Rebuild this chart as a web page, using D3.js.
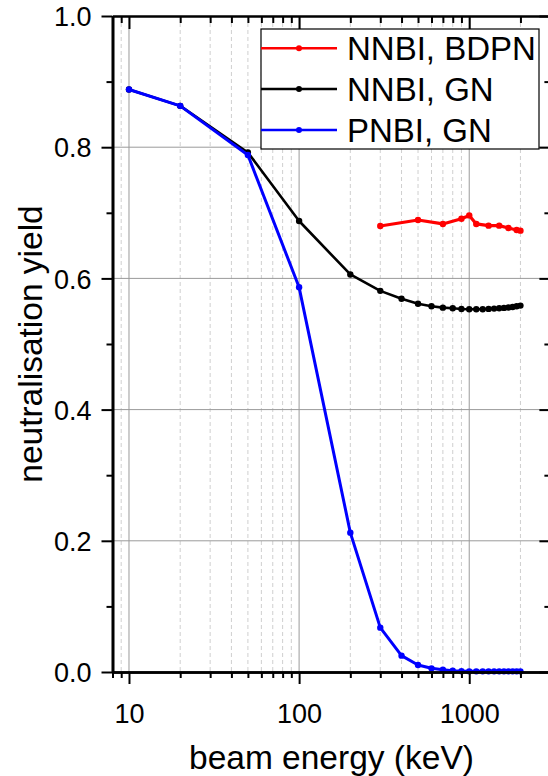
<!DOCTYPE html>
<html><head><meta charset="utf-8">
<script src="https://cdn.jsdelivr.net/npm/d3@7"></script>
<style>
body{margin:0;background:#fff;}
svg{display:block;font-family:"Liberation Sans",Arial,sans-serif;}
</style></head>
<body><svg id="c" width="548" height="776"></svg>
<script>
// ---- data ----
const energyGN = [10,20,50,100,200,300,400,500,600,700,800,900,1000,1100,1200,1300,1400,1500,1600,1700,1800,1900,2000];
const nnbiGN = [0.888,0.863,0.792,0.6875,0.606,0.581,0.569,0.5614,0.5575,0.5554,0.5544,0.5534,0.5529,0.5529,0.553,0.5535,0.554,0.5545,0.555,0.5557,0.5565,0.5575,0.5585];
const pnbiGN = [0.888,0.863,0.788,0.5864,0.2124,0.0676,0.0249,0.0107,0.0056,0.0035,0.002,0.0012,0.001,0.001,0.001,0.001,0.001,0.001,0.001,0.001,0.001,0.001,0.001];
const energyBDPN = [300,500,700,900,1000,1100,1300,1500,1700,1900,2000];
const nnbiBDPN = [0.6799,0.689,0.683,0.691,0.696,0.683,0.6804,0.6804,0.6768,0.6738,0.6728];
const seriesNames = ["NNBI, BDPN","NNBI, GN","PNBI, GN"];
const seriesColors = ["#ff0000","#000000","#0000ff"];
const xMajorTicks = [10,100,1000];
const xMinorTicks = [8,9,20,30,40,50,60,70,80,90,200,300,400,500,600,700,800,900,2000,3000];
const yMajorTicks = [0,0.2,0.4,0.6,0.8,1.0];
const yMinorTicks = [0.1,0.3,0.5,0.7,0.9];
const xTitle = "beam energy (keV)";
const yTitle = "neutralisation yield";

// ---- layout ----
const L = 112.5, R = 550.4, T = 16, B = 672;
const svg = d3.select("#c");
const x = d3.scaleLog().domain([8,3000]).range([L,R]);
const y = d3.scaleLinear().domain([0,1]).range([B,T]);

// grid
const g = svg.append("g");
g.selectAll(".gmin").data(xMinorTicks.filter(d=>d>8 && d<3000)).enter().append("line")
  .attr("x1",d=>x(d)).attr("x2",d=>x(d)).attr("y1",T).attr("y2",B)
  .attr("stroke","#cfcfcf").attr("stroke-width",1).attr("stroke-dasharray","4,3");
g.selectAll(".gx").data(xMajorTicks).enter().append("line")
  .attr("x1",d=>x(d)).attr("x2",d=>x(d)).attr("y1",T).attr("y2",B)
  .attr("stroke","#9a9a9a").attr("stroke-width",1);
g.selectAll(".gy").data(yMajorTicks.filter(d=>d>0&&d<1)).enter().append("line")
  .attr("x1",L).attr("x2",R).attr("y1",d=>y(d)).attr("y2",d=>y(d))
  .attr("stroke","#9a9a9a").attr("stroke-width",1);

// series
const line = d3.line().x(d=>x(d[0])).y(d=>y(d[1]));
const series = [
  {xs:energyBDPN, ys:nnbiBDPN, c:seriesColors[0], w:3.2},
  {xs:energyGN, ys:nnbiGN, c:seriesColors[1], w:2.6},
  {xs:energyGN, ys:pnbiGN, c:seriesColors[2], w:3}
];
series.forEach(s=>{
  const pts = s.xs.map((v,i)=>[v,s.ys[i]]);
  svg.append("path").datum(pts).attr("d",line).attr("fill","none")
    .attr("stroke",s.c).attr("stroke-width",s.w).attr("stroke-linejoin","round");
  svg.append("g").selectAll("circle").data(pts).enter().append("circle")
    .attr("cx",d=>x(d[0])).attr("cy",d=>y(d[1])).attr("r",3.2).attr("fill",s.c);
});

// axes
function styleAxis(sel, w){
  sel.select(".domain").attr("stroke","#000").attr("stroke-width",w);
  sel.selectAll(".tick line").attr("stroke","#000").attr("stroke-width",2);
}
const xb = svg.append("g").attr("transform",`translate(0,${B})`)
  .call(d3.axisBottom(x).tickValues(xMajorTicks).tickSize(12).tickSizeOuter(0).tickFormat(d3.format("d")));
styleAxis(xb,2.6);
xb.selectAll("text").attr("y",null).attr("dy",null).attr("transform","translate(0,50.5)")
  .attr("font-size",27).attr("fill","#000").attr("font-family","Liberation Sans, Arial, sans-serif");
const xbm = svg.append("g").attr("transform",`translate(0,${B})`)
  .call(d3.axisBottom(x).tickValues(xMinorTicks).tickSize(6).tickSizeOuter(0).tickFormat(""));
styleAxis(xbm,2.6);

const xt = svg.append("g").attr("transform",`translate(0,${T})`)
  .call(d3.axisTop(x).tickValues(xMajorTicks).tickSize(-13).tickSizeOuter(0).tickFormat(""));
styleAxis(xt,2.2);
const xtm = svg.append("g").attr("transform",`translate(0,${T})`)
  .call(d3.axisTop(x).tickValues(xMinorTicks).tickSize(-7).tickSizeOuter(0).tickFormat(""));
styleAxis(xtm,2.2);

const yl = svg.append("g").attr("transform",`translate(${L},0)`)
  .call(d3.axisLeft(y).tickValues(yMajorTicks).tickSize(11).tickPadding(10).tickSizeOuter(0).tickFormat(d3.format(".1f")));
styleAxis(yl,2.6);
yl.selectAll("text").attr("dy",null).attr("dominant-baseline",null).attr("transform","translate(0,9.6)")
  .attr("font-size",27).attr("fill","#000").attr("font-family","Liberation Sans, Arial, sans-serif");
const ylm = svg.append("g").attr("transform",`translate(${L},0)`)
  .call(d3.axisLeft(y).tickValues(yMinorTicks).tickSize(6).tickSizeOuter(0).tickFormat(""));
styleAxis(ylm,2.6);

const yr = svg.append("g").attr("transform",`translate(${R},0)`)
  .call(d3.axisRight(y).tickValues(yMajorTicks).tickSize(-11).tickSizeOuter(0).tickFormat(""));
styleAxis(yr,2.2);
const yrm = svg.append("g").attr("transform",`translate(${R},0)`)
  .call(d3.axisRight(y).tickValues(yMinorTicks).tickSize(-6).tickSizeOuter(0).tickFormat(""));
styleAxis(yrm,2.2);

// titles
svg.append("text").attr("x",(L+R)/2).attr("y",769).attr("text-anchor","middle")
  .attr("font-size",33.5).attr("fill","#000").text(xTitle);
svg.append("text").attr("transform",`translate(41.5,${(T+B)/2}) rotate(-90)`).attr("text-anchor","middle")
  .attr("font-size",33.5).attr("fill","#000").text(yTitle);

// legend
const lg = svg.append("g");
lg.append("rect").attr("x",261).attr("y",29).attr("width",278).attr("height",120)
  .attr("fill","#fff").attr("stroke","#000").attr("stroke-width",1.2);
const rowY = [48.3, 89, 130];
seriesNames.forEach((n,i)=>{
  lg.append("line").attr("x1",261).attr("x2",337).attr("y1",rowY[i]).attr("y2",rowY[i])
    .attr("stroke",seriesColors[i]).attr("stroke-width",2.6);
  lg.append("circle").attr("cx",299).attr("cy",rowY[i]).attr("r",3).attr("fill",seriesColors[i]);
  lg.append("text").attr("x",347).attr("y",rowY[i]+11.8).attr("font-size",33).attr("fill","#000").text(n);
});
</script></body></html>
